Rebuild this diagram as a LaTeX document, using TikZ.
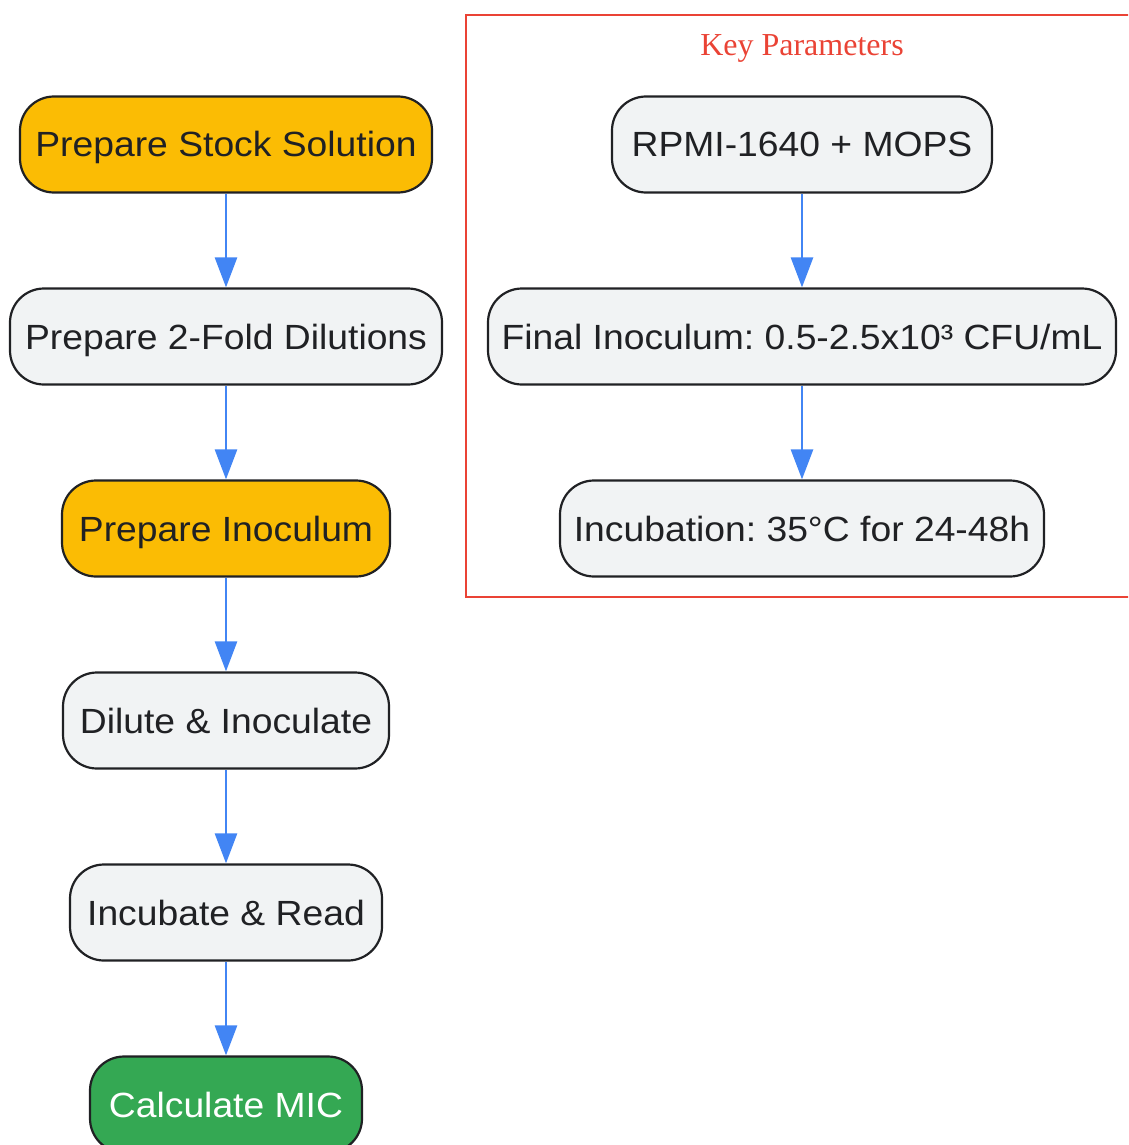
\documentclass[tikz,border=0pt]{standalone}
\usepackage{fontspec}
\setmainfont{Liberation Sans}[FakeStretch=1.065]
\newfontfamily\titlefont{Liberation Serif}
\usetikzlibrary{arrows.meta}
\frenchspacing
\definecolor{nodegray}{HTML}{F1F3F4}
\definecolor{nodeborder}{HTML}{202124}
\definecolor{gyellow}{HTML}{FBBC04}
\definecolor{ggreen}{HTML}{34A853}
\definecolor{gblue}{HTML}{4285F4}
\definecolor{gred}{HTML}{EA4335}
\tikzset{
  x=1pt, y=-1pt,
  stepbox/.style={draw=nodeborder, line width=2.2pt, fill=nodegray, rounded corners=34pt,
    minimum height=96pt, inner sep=0pt, text height=25pt, text depth=0pt,
    text=nodeborder, font=\fontsize{35}{40}\selectfont},
  yellowbox/.style={stepbox, fill=gyellow},
  greenbox/.style={stepbox, fill=ggreen, text=white},
  flow/.style={draw=gblue, line width=2.7pt, -{Triangle[width=22pt,length=30pt]}}
}
\begin{document}
\begin{tikzpicture}
\useasboundingbox (0,0) rectangle (1128,1145);
\clip (0,0) rectangle (1128,1145);
% cluster
\draw[gred, line width=2pt] (466,15) rectangle (1140,597);
\node[text=gred, inner sep=0pt, text height=21pt, text depth=0pt, font=\titlefont\fontsize{32}{36}\selectfont] (title) at (802,45.5) {Key Parameters};
% left column
\node[yellowbox, minimum width=412pt] (n1) at (226,144.5) {Prepare Stock Solution};
\node[stepbox, minimum width=432pt] (n2) at (226,336.5) {Prepare 2-Fold Dilutions};
\node[yellowbox, minimum width=328pt] (n3) at (226,528.5) {Prepare Inoculum};
\node[stepbox, minimum width=326pt] (n4) at (226,720.5) {Dilute \& Inoculate};
\node[stepbox, minimum width=312pt] (n5) at (226,912.5) {Incubate \& Read};
\node[greenbox, minimum width=272pt] (n6) at (226,1104.5) {Calculate MIC};
% right column
\node[stepbox, minimum width=380pt] (k1) at (802,144.5) {RPMI-1640 + MOPS};
\node[stepbox, minimum width=628pt] (k2) at (802,336.5) {Final Inoculum: 0.5-2.5x10³ CFU/mL};
\node[stepbox, minimum width=484pt] (k3) at (802,528.5) {Incubation: 35°C for 24-48h};
% arrows
\draw[flow] (n1.south) -- (n2.north);
\draw[flow] (n2.south) -- (n3.north);
\draw[flow] (n3.south) -- (n4.north);
\draw[flow] (n4.south) -- (n5.north);
\draw[flow] (n5.south) -- (n6.north);
\draw[flow] (k1.south) -- (k2.north);
\draw[flow] (k2.south) -- (k3.north);
\end{tikzpicture}
\end{document}
